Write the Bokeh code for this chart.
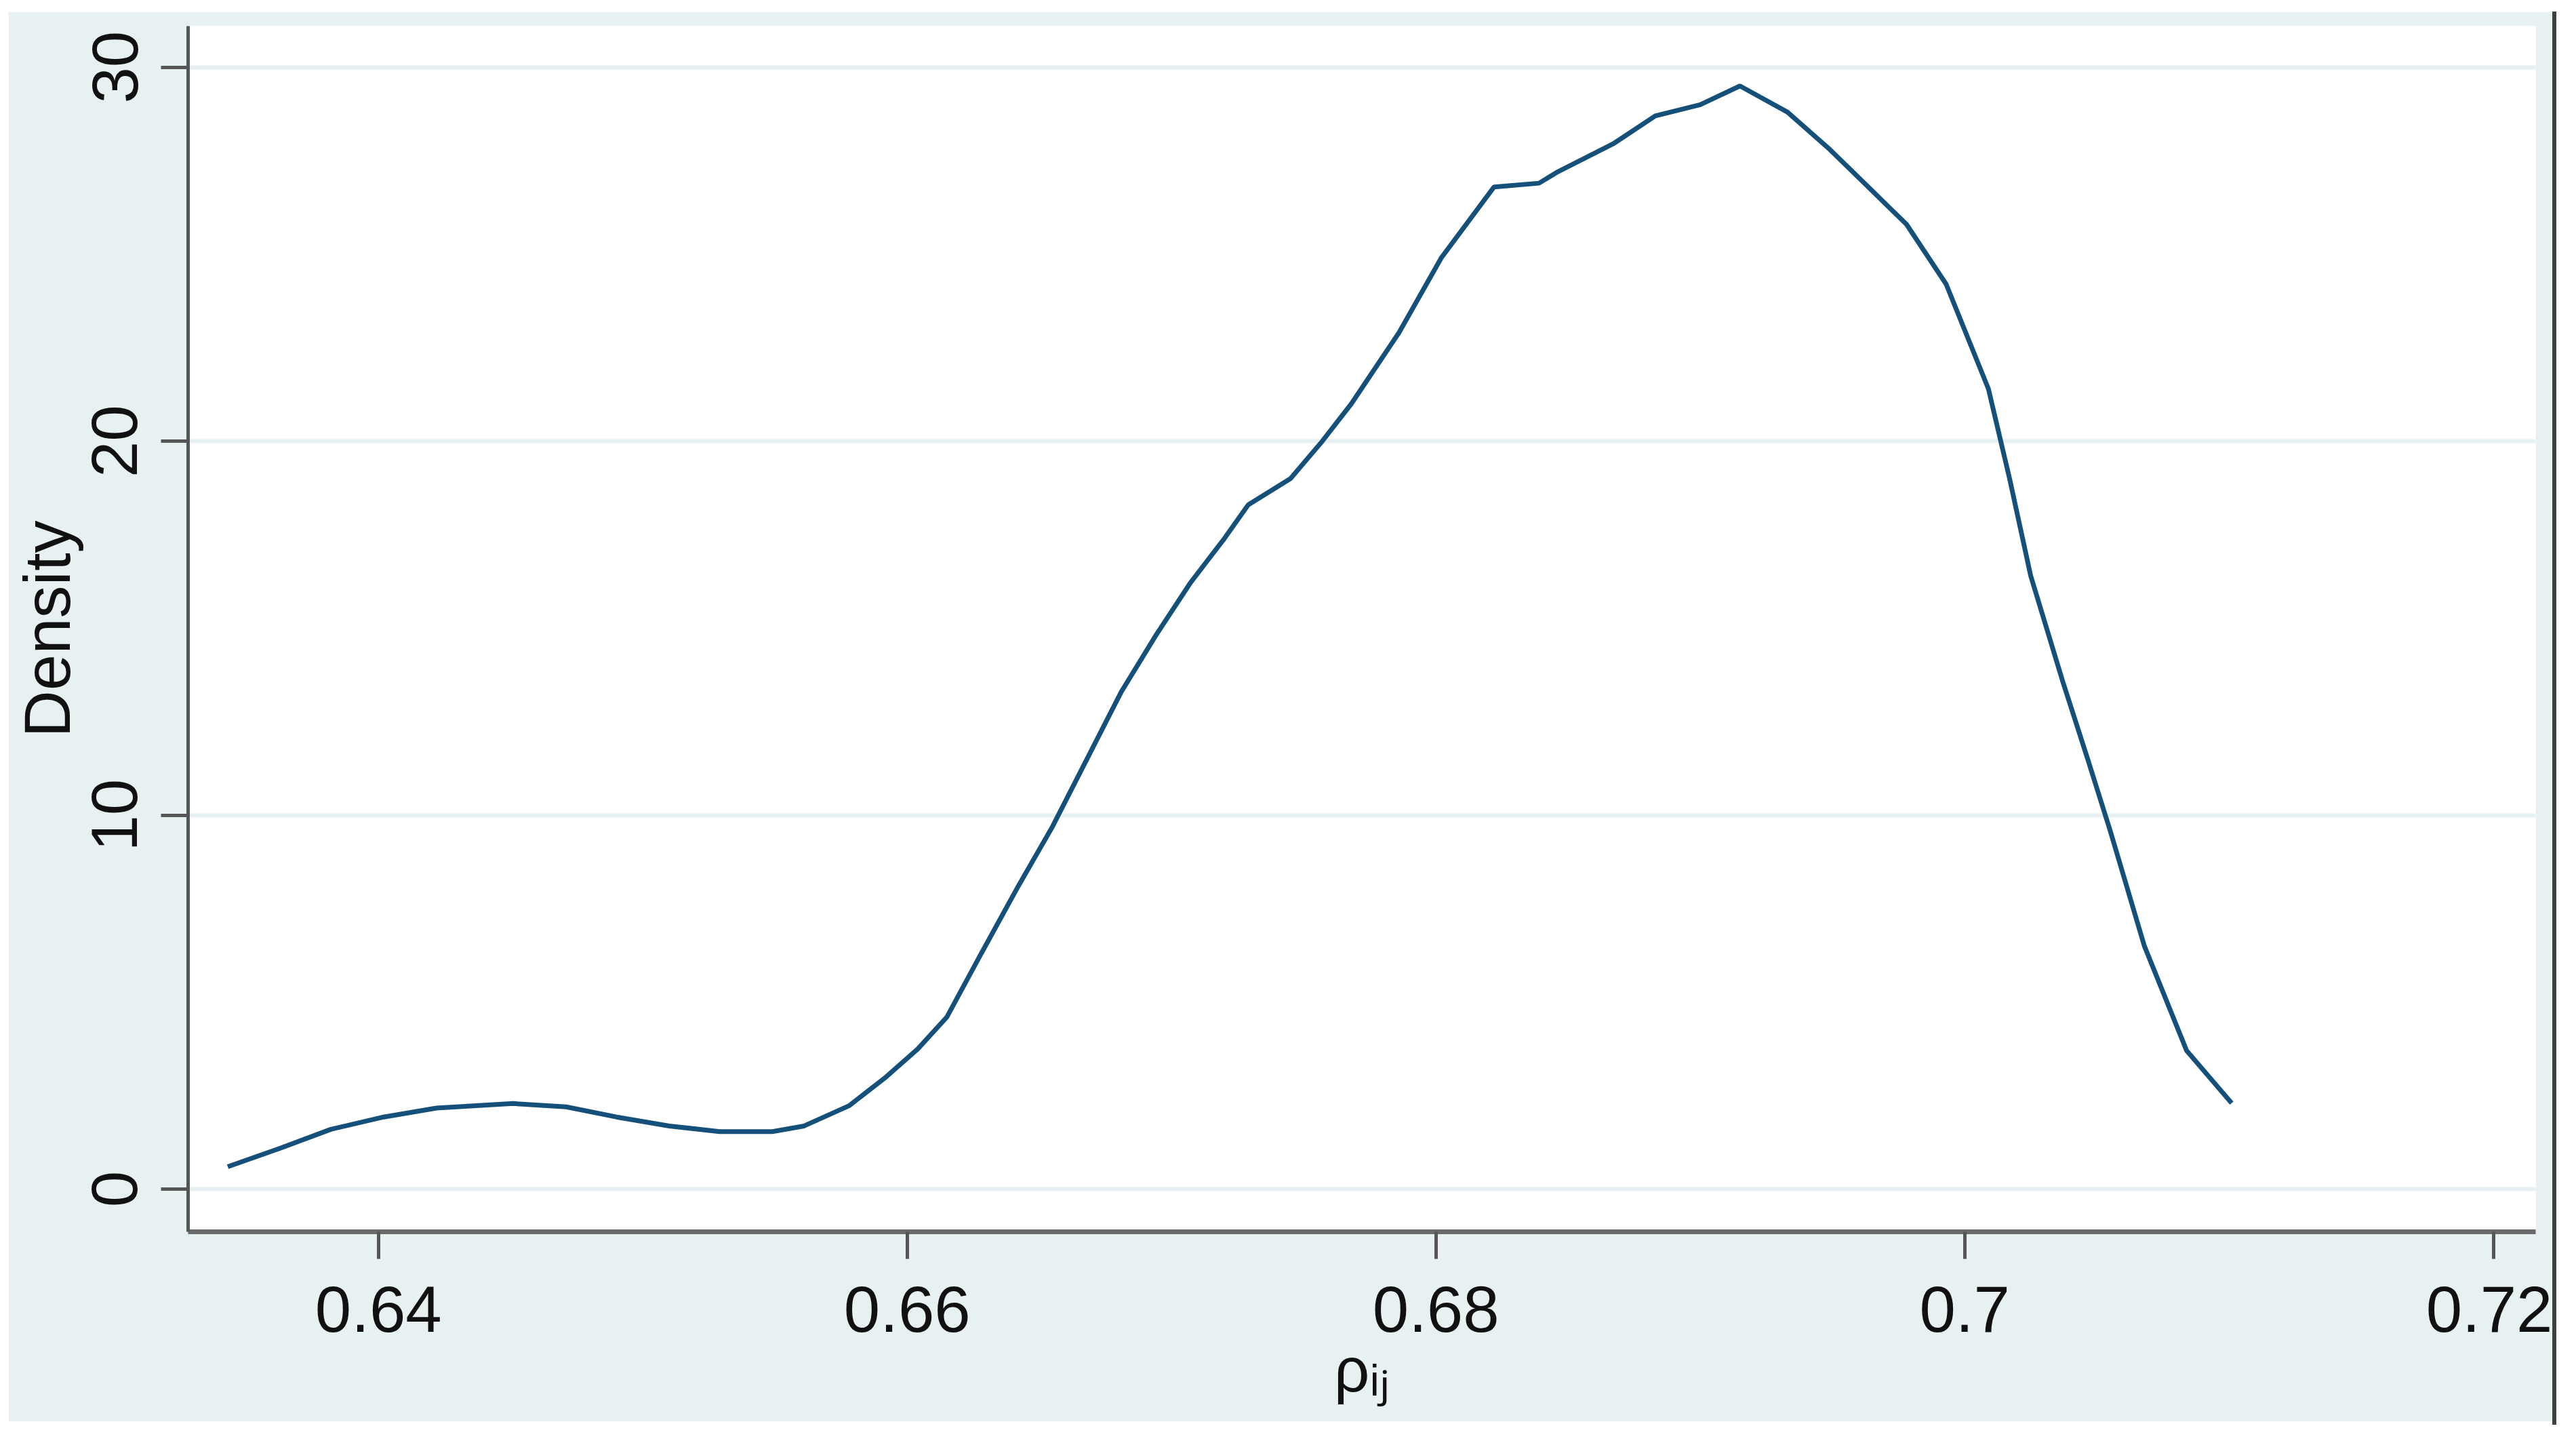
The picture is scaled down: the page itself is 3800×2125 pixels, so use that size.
from bokeh.plotting import figure
from bokeh.models import FixedTicker, Range1d, Spacer
from bokeh.layouts import row
from bokeh.embed import file_html
from bokeh.resources import INLINE

# Kernel density of rho_ij
rho = [0.6343, 0.6363, 0.6382, 0.6402, 0.6422, 0.6451, 0.6471, 0.6490, 0.6510,
       0.6529, 0.6549, 0.6561, 0.6578, 0.6592, 0.6604, 0.6615, 0.6628, 0.6642,
       0.6655, 0.6668, 0.6681, 0.6694, 0.6707, 0.6720, 0.6729, 0.6745, 0.6757,
       0.6768, 0.6786, 0.6802, 0.6822, 0.6839, 0.6846, 0.6867, 0.6883, 0.6900,
       0.6915, 0.6933, 0.6949, 0.6965, 0.6978, 0.6993, 0.7009, 0.7017, 0.7025,
       0.7037, 0.7047, 0.7055, 0.7068, 0.7084, 0.7101]
density = [0.6, 1.1, 1.6, 1.93, 2.17, 2.29, 2.2, 1.93, 1.69, 1.54, 1.54, 1.69,
           2.23, 3.0, 3.75, 4.6, 6.3, 8.1, 9.7, 11.5, 13.3, 14.8, 16.2, 17.4,
           18.3, 19.0, 20.0, 21.0, 22.9, 24.9, 26.8, 26.9, 27.2, 27.95, 28.7,
           29.0, 29.5, 28.8, 27.8, 26.7, 25.8, 24.2, 21.4, 19.0, 16.4, 13.6,
           11.4, 9.6, 6.5, 3.7, 2.3]

x_ticks = [0.64, 0.66, 0.68, 0.70, 0.72]
x_tick_labels = ["0.64", "0.66", "0.68", "0.7", "0.72"]
y_ticks = [0, 10, 20, 30]

BG = "#e8f1f2"
FONT = "Liberation Sans"

p = figure(width=3753, height=2079, output_backend="svg", toolbar_location=None,
           x_range=Range1d(0.6328, 0.7216), y_range=Range1d(-1.14, 31.1))
p.margin = (17, 0, 0, 12)
p.border_fill_color = BG
p.background_fill_color = "white"
p.outline_line_color = None
p.min_border_left = 259
p.min_border_right = 25
p.min_border_top = 21
p.min_border_bottom = 280

p.line(rho, density, line_color="#15507a", line_width=7)

p.xaxis.ticker = FixedTicker(ticks=x_ticks)
p.xaxis.major_label_overrides = {t: l for t, l in zip(x_ticks, x_tick_labels)}
p.yaxis.ticker = FixedTicker(ticks=y_ticks)

for ax in (p.xaxis, p.yaxis):
    ax.major_tick_out = 40
    ax.major_tick_in = 0
    ax.minor_tick_out = 0
    ax.minor_tick_in = 0
    ax.major_tick_line_width = 5
    ax.major_tick_line_color = "#555555"
    ax.major_label_text_font = FONT
    ax.major_label_text_font_size = "96px"
    ax.major_label_text_color = "#111111"
    ax.axis_label_text_font = FONT
    ax.axis_label_text_font_size = "96px"
    ax.axis_label_text_font_style = "normal"
    ax.axis_label_text_color = "#111111"

p.xaxis.axis_line_width = 7
p.xaxis.axis_line_color = "#6a6a6a"
p.yaxis.axis_line_width = 5
p.yaxis.axis_line_color = "#555555"

p.xaxis.axis_label = "ρᵢⱼ"
p.xaxis.axis_label_text_font_size = "92px"
p.yaxis.axis_label = "Density"
p.xaxis.major_label_standoff = 40
p.xaxis.axis_label_standoff = 2
p.yaxis.major_label_standoff = 35
p.yaxis.axis_label_standoff = 10
p.yaxis.major_label_orientation = "vertical"

p.xgrid.grid_line_color = None
p.ygrid.grid_line_color = "#e6eff1"
p.ygrid.grid_line_width = 6

edge = Spacer(width=6, height=2084, margin=(17, 0, 0, 0),
              styles={"background-color": "#404040"})

layout = row(p, edge)

open("out.html", "w").write(file_html(layout, INLINE))
